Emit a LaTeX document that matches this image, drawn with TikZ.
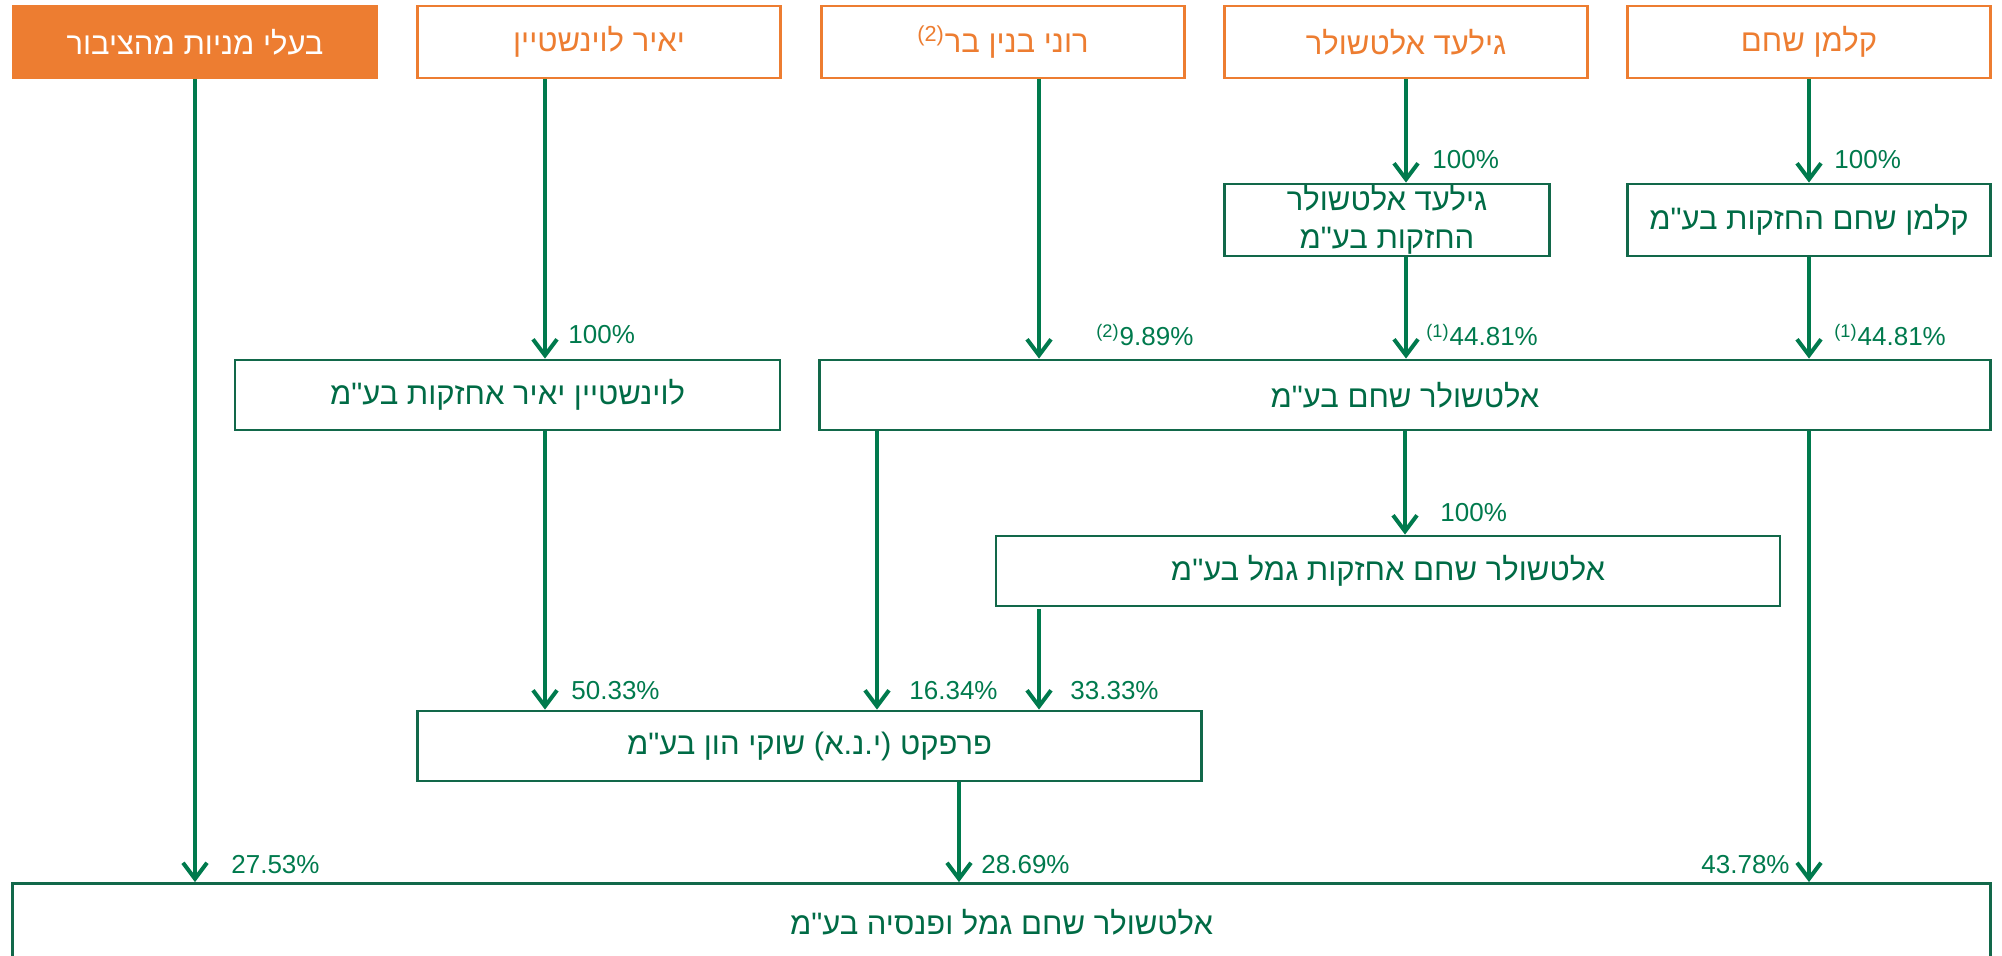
\documentclass[tikz,border=0pt]{standalone}
\usepackage{fontspec}
\setmainfont{Liberation Sans}
\newfontfamily\hebfont[Script=Hebrew]{Liberation Sans}
\TeXXeTstate=1
\usetikzlibrary{arrows.meta,positioning}
\definecolor{ashorange}{HTML}{ED7D31}
\definecolor{ashgreen}{HTML}{007A4D}
\definecolor{ashdark}{HTML}{12684A}
\definecolor{ashtext}{HTML}{006B45}
\newcommand{\heb}[1]{{\hebfont\beginR #1\endR}}
\tikzset{
  basic/.style  = {draw, rectangle, inner sep=0pt, align=center,
                   font=\fontsize{15.5}{19}\selectfont},
  owner/.style  = {basic, draw=ashorange, text=ashorange, line width=1.2pt,
                   fill=white, minimum width=181.5pt, minimum height=35.75pt},
  public/.style = {owner, fill=ashorange, text=white},
  firm/.style   = {basic, draw=ashdark, text=ashtext, line width=1.4pt,
                   minimum height=35pt},
  pct/.style    = {anchor=west, inner sep=0pt, text=ashgreen,
                   font=\fontsize{13}{15}\selectfont}
}
\begin{document}
\begin{tikzpicture}[x=0.5pt, y=-0.5pt,
  link/.style={-{Straight Barb[length=8pt,width=12pt]}, draw=ashgreen, line width=2pt}]

\useasboundingbox (0,0) rectangle (2002,956);

% owners
\node[public] (pub) at (195,42) {\heb{בעלי מניות מהציבור}};
\node[owner] (roni) at (1003,42) {\textsuperscript{(2)}\heb{רוני בנין בר}};
\foreach \id/\x/\txt in {yair/599/{יאיר לוינשטיין}, gilad/1406/{גילעד אלטשולר},
                         kalman/1809/{קלמן שחם}}{
    \node[owner] (\id) at (\x,42) {\heb{\txt}};
    }

% companies
\node[firm, minimum width=162.5pt, minimum height=36pt] (giladH) at (1387,220)
    {\heb{גילעד אלטשולר}\\\heb{החזקות בע"מ}};
\node[firm, minimum width=181.5pt, minimum height=36pt] (kalmanH) at (1809,220)
    {\heb{קלמן שחם החזקות בע"מ}};
\node[firm, minimum width=272.5pt] (levH) at (507.5,395) {\heb{לוינשטיין יאיר אחזקות בע"מ}};
\node[firm, minimum width=585.5pt] (altsh) at (1405,395) {\heb{אלטשולר שחם בע"מ}};
\node[firm, minimum width=392pt] (gemelH) at (1388,571) {\heb{אלטשולר שחם אחזקות גמל בע"מ}};
\node[firm, minimum width=392pt] (perfect) at (809.5,746) {\heb{פרפקט (י.נ.א) שוקי הון בע"מ}};
\node[firm, minimum width=989pt, minimum height=38.5pt] (fund) at (1001.5,922)
    {\heb{אלטשולר שחם גמל ופנסיה בע"מ}};

% columns of the arrows
\coordinate (colA) at (545,0);
\coordinate (colB) at (1039,0);
\coordinate (colC) at (877,0);
\coordinate (colD) at (959,0);

\draw[link] (pub.south) -- (pub.south |- fund.north);
\draw[link] (colA |- yair.south) -- (colA |- levH.north);
\draw[link] (colA |- levH.south) -- (colA |- perfect.north);
\draw[link] (colB |- roni.south) -- (colB |- altsh.north);
\draw[link] (gilad.south) -- (gilad.south |- giladH.north);
\draw[link] (gilad.south |- giladH.south) -- (gilad.south |- altsh.north);
\draw[link] (kalman.south) -- (kalmanH.north);
\draw[link] (kalmanH.south) -- (kalmanH.south |- altsh.north);
\draw[link] (altsh.south) -- (altsh.south |- gemelH.north);
\draw[link] (colC |- altsh.south) -- (colC |- perfect.north);
\draw[link] ([yshift=-1pt]colB |- gemelH.south) -- (colB |- perfect.north);
\draw[link] (colD |- perfect.south) -- (colD |- fund.north);
\draw[link] (kalman.south |- altsh.south) -- (kalman.south |- fund.north);

% holdings
\node[pct] (p1) at (1432,160) {100\%};
\node[pct] (p2) at (1834,160) {100\%};
\node[pct] (p3) at (568,335) {100\%};
\node[pct] (p4) at (1096,335) {\textsuperscript{(2)}9.89\%};
\node[pct] (p5) at (1426,335) {\textsuperscript{(1)}44.81\%};
\node[pct] (p6) at (1834,335) {\textsuperscript{(1)}44.81\%};
\node[pct] (p7) at (1440,513) {100\%};
\node[pct] (p8) at (571,691) {50.33\%};
\node[pct] (p9) at (909,691) {16.34\%};
\node[pct] (p10) at (1070,691) {33.33\%};
\node[pct] (p11) at (231,865) {27.53\%};
\node[pct] (p12) at (981,865) {28.69\%};
\node[pct, anchor=east] (p13) at (1790,865) {43.78\%};

\end{tikzpicture}
\end{document}
